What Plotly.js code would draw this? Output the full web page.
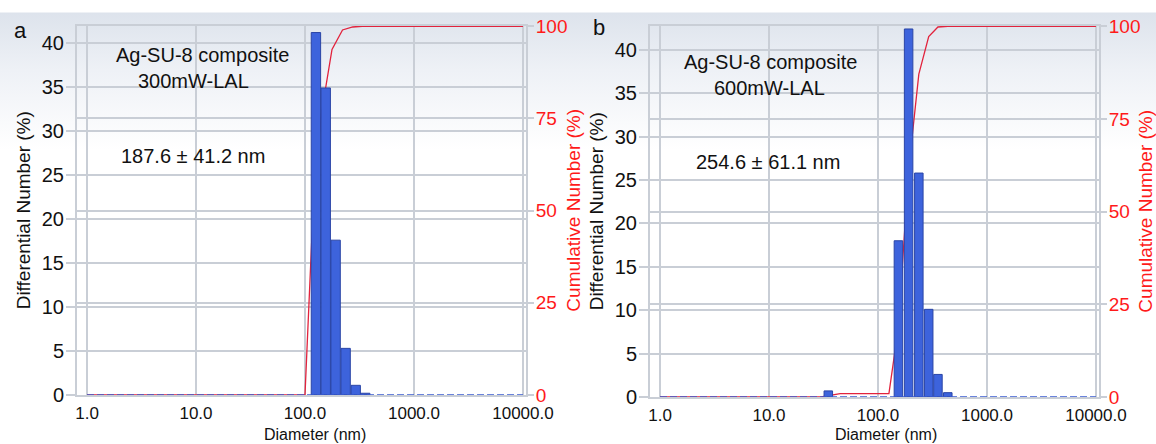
<!DOCTYPE html>
<html>
<head>
<meta charset="utf-8">
<script src="https://cdn.plot.ly/plotly-3.0.1.min.js"></script>
<style>
  html, body { margin: 0; padding: 0; }
  body {
    width: 1156px; height: 444px; overflow: hidden;
    background: linear-gradient(to bottom, #ffffff 0px, #ffffff 12px, #dde3ec 13px, #eef1f6 70px, #ffffff 150px);
  }
  #chart { width: 1156px; height: 444px; }
</style>
</head>
<body>
<div id="chart"></div>
<script>
// ---------- data ----------
// Panel a: Ag-SU-8 composite, 300mW-LAL
const diamA = [126, 155, 191, 236, 292, 357];          // bin centres (nm)
const diffA = [41.2, 34.9, 17.6, 5.3, 1.1, 0.2];       // differential number (%)
const cumXA = [1, 100, 115, 141, 177, 221, 274, 335, 10000];
const cumA  = [0, 0, 41.2, 76.1, 93.7, 99.0, 99.8, 100, 100];

// Panel b: Ag-SU-8 composite, 600mW-LAL
const diamB = [35, 154, 191, 237, 292, 355, 437];
const diffB = [0.7, 18.0, 42.4, 25.8, 10.1, 2.6, 0.5];
const cumXB = [1, 30, 45, 126, 154, 191, 237, 292, 355, 437, 10000];
const cumB  = [0, 0, 0.9, 0.9, 18.9, 61.3, 87.1, 97.2, 99.8, 100, 100];

// zero baseline of the differential distribution over the measured range
const sizeRange = [1, 10000];
const zeroLine  = [0, 0];

// axis ticks
const xTickVals  = [1, 10, 100, 1000, 10000];
const xTickText  = ['1.0', '10.0', '100.0', '1000.0', '10000.0'];
const leftTicks  = [0, 5, 10, 15, 20, 25, 30, 35, 40];
const rightTicks = [0, 25, 50, 75, 100];

// ---------- styling ----------
const FONT = 'Liberation Sans, Arial, Helvetica, sans-serif';
const GRID = '#c9ced6';
const RED = '#ff1a1a';
const LINE_RED = '#e2233d';
const BAR_FILL = '#3d63dc';
const BAR_EDGE = '#2a45a6';
const W = 1156, H = 444;
const lg = arr => arr.map(v => Math.log10(v));
const px = v => v / W;
const py = v => 1 - v / H;

function cumTrace(xs, ys, xa, ya) {
  return { type: 'scatter', mode: 'lines', x: lg(xs), y: ys, xaxis: xa, yaxis: ya,
    line: { color: LINE_RED, width: 1.3 }, cliponaxis: false, hoverinfo: 'skip', showlegend: false };
}
function barTrace(xs, ys, xa, ya, w) {
  return { type: 'bar', x: lg(xs), y: ys, xaxis: xa, yaxis: ya, width: w,
    marker: { color: BAR_FILL, line: { color: BAR_EDGE, width: 1 } }, showlegend: false };
}
function zeroTrace(xa, ya) {
  return { type: 'scatter', mode: 'lines', x: lg(sizeRange), y: zeroLine, xaxis: xa, yaxis: ya,
    line: { color: '#3a5bd0', width: 1.6, dash: '7px,3px' }, cliponaxis: false, hoverinfo: 'skip', showlegend: false };
}

const data = [
  cumTrace(cumXA, cumA, 'x', 'y'),
  barTrace(diamA, diffA, 'x', 'y2', 0.086),
  zeroTrace('x', 'y2'),
  cumTrace(cumXB, cumB, 'x2', 'y3'),
  barTrace(diamB, diffB, 'x2', 'y4', 0.078),
  zeroTrace('x2', 'y4')
];

function xAxis(domain, anchor) {
  return {
    domain: domain, anchor: anchor, type: 'linear', range: [-0.092, 4.028],
    tickvals: lg(xTickVals), ticktext: xTickText, ticks: '', ticklabelstandoff: 2,
    tickfont: { family: FONT, size: 17, color: '#111' },
    showgrid: true, gridcolor: GRID, gridwidth: 2, zeroline: false,
    showline: true, mirror: true, linecolor: GRID, linewidth: 2,
    automargin: false, fixedrange: true
  };
}
function rightAxis(domain, anchor, top) {
  return {
    domain: domain, anchor: anchor, side: 'right', range: [0, top],
    tickvals: rightTicks, ticks: 'outside', ticklen: 6, tickwidth: 2, tickcolor: GRID,
    ticklabelstandoff: -2,
    tickfont: { family: FONT, size: 19, color: RED },
    showgrid: true, gridcolor: GRID, gridwidth: 2, zeroline: false,
    showline: true, linecolor: GRID, linewidth: 2,
    title: { text: 'Cumulative Number (%)', font: { family: FONT, size: 19, color: RED }, standoff: 0 },
    automargin: false, fixedrange: true
  };
}
function leftAxis(overlay, anchor, top) {
  return {
    overlaying: overlay, anchor: anchor, side: 'left', range: [0, top],
    tickvals: leftTicks, ticks: 'outside', ticklen: 9, tickwidth: 2, tickcolor: GRID,
    ticklabelstandoff: -2,
    tickfont: { family: FONT, size: 20, color: '#111' },
    showgrid: true, gridcolor: GRID, gridwidth: 2, zeroline: false,
    showline: true, linecolor: GRID, linewidth: 2,
    title: { text: 'Differential Number (%)', font: { family: FONT, size: 19, color: '#111' }, standoff: 6 },
    automargin: false, fixedrange: true
  };
}

function note(text, x, y, size) {
  return { text: text, xref: 'paper', yref: 'paper', x: px(x), y: py(y), xanchor: 'center', yanchor: 'middle',
    showarrow: false, font: { family: FONT, size: size || 20, color: '#111' } };
}
function bottomNote(text, x) {
  return { text: text, xref: 'paper', yref: 'paper', x: px(x), y: 0, xanchor: 'center', yanchor: 'bottom',
    borderpad: 0, showarrow: false, font: { family: FONT, size: 16, color: '#111' } };
}

const layout = {
  width: W, height: H, autosize: false,
  margin: { l: 0, r: 0, t: 0, b: 0, pad: 0 },
  paper_bgcolor: 'rgba(0,0,0,0)', plot_bgcolor: 'rgba(0,0,0,0)',
  barmode: 'overlay', showlegend: false,
  xaxis:  xAxis([px(77), px(526)], 'y'),
  yaxis:  rightAxis([1 - 395 / H, 1 - 25.5 / H], 'x', 100.2),
  yaxis2: leftAxis('y', 'x', 42.0),
  xaxis2: xAxis([px(650), px(1099)], 'y3'),
  yaxis3: rightAxis([1 - 397 / H, 1 - 25.5 / H], 'x2', 100.2),
  yaxis4: leftAxis('y3', 'x2', 42.8),
  annotations: [
    note('a', 20, 31, 22),
    note('b', 599, 27, 22),
    note('Ag-SU-8 composite', 202, 55),
    note('300mW-LAL', 193, 81),
    note('187.6 ± 41.2 nm', 193, 156),
    note('Ag-SU-8 composite', 771, 62),
    note('600mW-LAL', 769, 88),
    note('254.6 ± 61.1 nm', 768, 162),
    bottomNote('Diameter (nm)', 315),
    bottomNote('Diameter (nm)', 886)
  ]
};

Plotly.newPlot('chart', data, layout, { staticPlot: true, displayModeBar: false });
</script>
</body>
</html>
